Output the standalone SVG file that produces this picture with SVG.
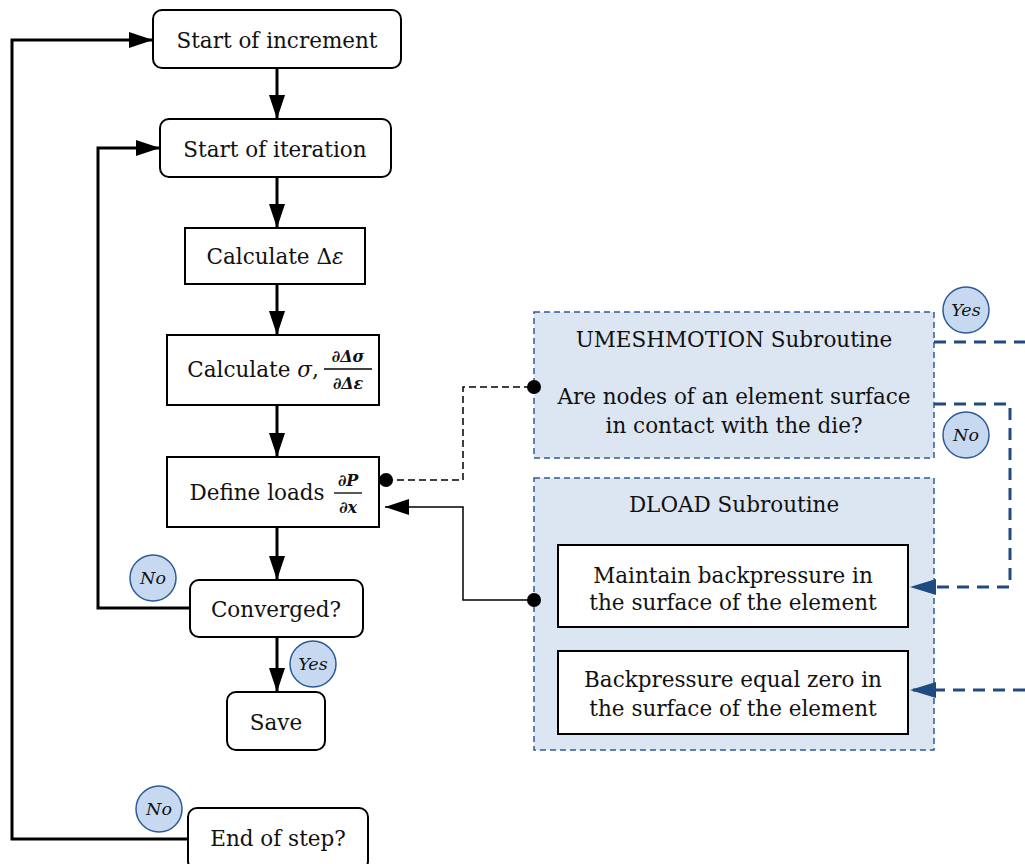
<svg xmlns="http://www.w3.org/2000/svg" width="1025" height="864" viewBox="0 0 1025 864">
  <style>
    .box { fill: #ffffff; stroke: #000000; stroke-width: 2; }
    .sub { fill: #dce6f2; stroke: #2e5b95; stroke-width: 1.5; stroke-dasharray: 6 4; }
    .t { font-family: "DejaVu Serif", "Liberation Serif", serif; font-size: 21.5px; fill: #111111; text-anchor: middle; dominant-baseline: central; }
    .f { font-family: "DejaVu Serif", "Liberation Serif", serif; font-size: 16px; font-style: italic; font-weight: bold; fill: #111111; text-anchor: middle; }
    .flow { fill: none; stroke: #000000; stroke-width: 3; }
    .thin { fill: none; stroke: #000000; stroke-width: 1.5; }
    .thindash { fill: none; stroke: #000000; stroke-width: 1.5; stroke-dasharray: 7 4; }
    .blue { fill: none; stroke: #1f4a82; stroke-width: 3; stroke-dasharray: 12 8; }
    .tag { fill: #c6d9f1; stroke: #2e5b95; stroke-width: 1.5; }
    .tagt { font-family: "DejaVu Serif", "Liberation Serif", serif; font-size: 17.5px; font-style: italic; fill: #111111; text-anchor: middle; dominant-baseline: central; }
  </style>
  <defs>
    <marker id="ah" markerWidth="24" markerHeight="16" refX="24" refY="8" orient="auto" markerUnits="userSpaceOnUse">
      <path d="M0,0 L24,8 L0,16 Z" fill="#000"/>
    </marker>
    <marker id="ahBlue" markerWidth="26" markerHeight="16" refX="26" refY="8" orient="auto" markerUnits="userSpaceOnUse">
      <path d="M0,0 L26,8 L0,16 Z" fill="#1f4a82"/>
    </marker>
  </defs>

  <!-- subroutine panels -->
  <g id="umeshmotion">
    <rect class="sub" x="534" y="312" width="400" height="146"/>
    <text class="t" x="734" y="339">UMESHMOTION Subroutine</text>
    <text class="t" x="734" y="396">Are nodes of an element surface</text>
    <text class="t" x="734" y="425">in contact with the die?</text>
  </g>
  <g id="dload">
    <rect class="sub" x="534" y="478" width="400" height="272"/>
    <text class="t" x="734" y="504">DLOAD Subroutine</text>
  </g>
  <g id="maintain">
    <rect class="box" x="558" y="545" width="350" height="82"/>
    <text class="t" x="733" y="575">Maintain backpressure in</text>
    <text class="t" x="733" y="602">the surface of the element</text>
  </g>
  <g id="zero">
    <rect class="box" x="558" y="651" width="350" height="83"/>
    <text class="t" x="733" y="679">Backpressure equal zero in</text>
    <text class="t" x="733" y="708">the surface of the element</text>
  </g>

  <!-- connectors -->
  <g id="connectors">
    <line class="flow" x1="277" y1="68" x2="277" y2="119" marker-end="url(#ah)"/>
    <line class="flow" x1="277" y1="177" x2="277" y2="228" marker-end="url(#ah)"/>
    <line class="flow" x1="277" y1="284" x2="277" y2="335" marker-end="url(#ah)"/>
    <line class="flow" x1="277" y1="405" x2="277" y2="457" marker-end="url(#ah)"/>
    <line class="flow" x1="277" y1="527" x2="277" y2="580" marker-end="url(#ah)"/>
    <line class="flow" x1="277" y1="637" x2="277" y2="692" marker-end="url(#ah)"/>
    <polyline class="flow" points="190,608 98,608 98,148 160,148" marker-end="url(#ah)"/>
    <polyline class="flow" points="188,839 12,839 12,40 153,40" marker-end="url(#ah)"/>
    <polyline class="thindash" points="386,480 463,480 463,387 534,387"/>
    <circle cx="386" cy="480" r="7" fill="#000"/>
    <circle cx="534" cy="387" r="7" fill="#000"/>
    <polyline class="thin" points="534,600 463,600 463,507 385,507" marker-end="url(#ah)"/>
    <circle cx="534" cy="600" r="7" fill="#000"/>
    <line class="blue" x1="934" y1="342" x2="1025" y2="342"/>
    <polyline class="blue" points="934,404 1010,404 1010,587 910,587" marker-end="url(#ahBlue)"/>
    <line class="blue" x1="1025" y1="690" x2="910" y2="690" marker-end="url(#ahBlue)"/>
  </g>

  <!-- main flow -->
  <g id="start-increment">
    <rect class="box" x="153" y="10" width="248" height="58" rx="9"/>
    <text class="t" x="277" y="40">Start of increment</text>
  </g>
  <g id="start-iteration">
    <rect class="box" x="160" y="119" width="231" height="58" rx="9"/>
    <text class="t" x="275" y="149">Start of iteration</text>
  </g>
  <g id="calc-strain">
    <rect class="box" x="185" y="228" width="180" height="56"/>
    <text class="t" x="275" y="256">Calculate Δ<tspan font-style="italic">ε</tspan></text>
  </g>
  <g id="calc-stress">
    <rect class="box" x="167" y="335" width="212" height="70"/>
    <text class="t" x="253" y="369">Calculate <tspan font-style="italic">σ</tspan>,</text>
    <text class="f" x="348" y="362">∂Δσ</text>
    <line x1="324" y1="369" x2="372" y2="369" stroke="#000" stroke-width="1.3"/>
    <text class="f" x="348" y="389">∂Δε</text>
  </g>
  <g id="define-loads">
    <rect class="box" x="167" y="457" width="212" height="70"/>
    <text class="t" x="257" y="492">Define loads</text>
    <text class="f" x="348" y="486">∂P</text>
    <line x1="334" y1="493" x2="362" y2="493" stroke="#000" stroke-width="1.3"/>
    <text class="f" x="348" y="513">∂x</text>
  </g>
  <g id="converged">
    <rect class="box" x="190" y="580" width="173" height="57" rx="9"/>
    <text class="t" x="276" y="609">Converged?</text>
  </g>
  <g id="save">
    <rect class="box" x="227" y="692" width="98" height="58" rx="9"/>
    <text class="t" x="276" y="722">Save</text>
  </g>
  <g id="end-step">
    <rect class="box" x="188" y="808" width="180" height="62" rx="9"/>
    <text class="t" x="278" y="838">End of step?</text>
  </g>

  <!-- decision tags -->
  <g id="tag-no-iter"><circle class="tag" cx="153" cy="578" r="23"/><text class="tagt" x="153" y="578">No</text></g>
  <g id="tag-yes-save"><circle class="tag" cx="313" cy="664" r="23"/><text class="tagt" x="313" y="664">Yes</text></g>
  <g id="tag-no-step"><circle class="tag" cx="159" cy="809" r="23"/><text class="tagt" x="159" y="809">No</text></g>
  <g id="tag-yes-contact"><circle class="tag" cx="966" cy="310" r="23"/><text class="tagt" x="966" y="310">Yes</text></g>
  <g id="tag-no-contact"><circle class="tag" cx="966" cy="435" r="23"/><text class="tagt" x="966" y="435">No</text></g>
</svg>
